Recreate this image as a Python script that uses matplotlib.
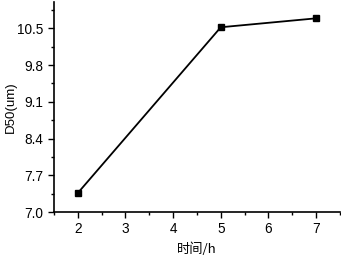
import matplotlib
matplotlib.use("Agg")
import matplotlib.pyplot as plt
from matplotlib.ticker import MultipleLocator

plt.rcParams['font.family'] = ['Liberation Sans', 'Noto Sans CJK SC', 'DejaVu Sans']

x_hours = [2, 5, 7]
d50 = [7.36, 10.52, 10.69]

fig = plt.figure(figsize=(3.41, 2.57), dpi=100)
ax = fig.add_axes([0.158, 0.175, 0.839, 0.817])
ax.plot(x_hours, d50, color='black', lw=1.3, marker='s', ms=4)
ax.set_xlim(1.5, 7.5)
ax.set_ylim(7.0, 11.0)
ax.xaxis.set_major_locator(MultipleLocator(1))
ax.xaxis.set_minor_locator(MultipleLocator(0.5))
ax.yaxis.set_minor_locator(MultipleLocator(0.35))
ax.set_yticks([7.0, 7.7, 8.4, 9.1, 9.8, 10.5])
ax.yaxis.set_major_formatter(matplotlib.ticker.FormatStrFormatter('%.1f'))
for s in ['top', 'right']:
    ax.spines[s].set_visible(False)
for s in ['left', 'bottom']:
    ax.spines[s].set_linewidth(1.2)
ax.tick_params(which='major', direction='out', length=4, width=1, labelsize=9.8)
ax.tick_params(which='minor', direction='out', length=2.5, width=1)
ax.set_xlabel('时间/h', fontsize=9.5, family=['Noto Sans CJK SC', 'Liberation Sans'])
ax.set_ylabel('D50(um)', fontsize=9.5, labelpad=0)
fig.savefig('out.png', dpi=100)
